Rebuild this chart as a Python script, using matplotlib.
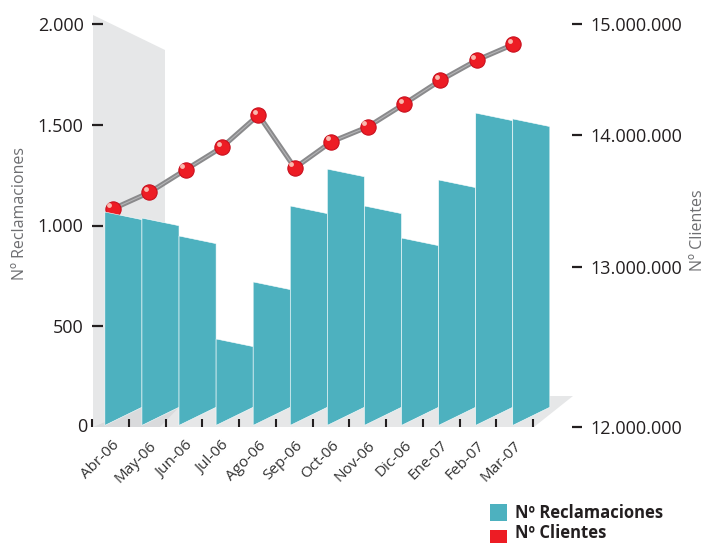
import numpy as np
import matplotlib
matplotlib.use("Agg")
import matplotlib.pyplot as plt
from matplotlib.transforms import ScaledTranslation

plt.rcParams['font.family'] = ['Open Sans', 'DejaVu Sans']

months = ['Abr-06','May-06','Jun-06','Jul-06','Ago-06','Sep-06','Oct-06','Nov-06','Dic-06','Ene-07','Feb-07','Mar-07']
reclamaciones = [1067,1037,948,437,720,1097,1280,1097,938,1226,1558,1529]
clientes = [13439000,13563000,13735000,13905000,14177000,13748000,13945000,14069000,14276000,14490000,14673000,14815000]

left_ticks = [500,1000,1500,2000]
left_labels = ['500','1.000','1.500','2.000']
right_ticks = [12000000,13000000,14000000,15000000]
right_labels = ['12.000.000','13.000.000','14.000.000','15.000.000']
# right axis in the original is not evenly spaced, position of each tick as axes fraction
right_pos = [0.005,0.4,0.727,1.0]

W,H = 707,543
X0,X1,Y0,Y1 = 92,533,427,24
TEAL = '#4db1bf'
RED = '#ed1c24'

fig = plt.figure(figsize=(W/100,H/100),dpi=100)
ax2 = fig.add_axes([X0/W,(H-Y0)/H,(X1-X0)/W,(Y0-Y1)/H])
ax = fig.add_axes(ax2.get_position())
ax.patch.set_visible(False)
ax2.patch.set_visible(False)
ax2.set_zorder(1)
ax.set_zorder(2)

def px(x,y):
	return ((x-X0)/(X1-X0),(Y0-y)/(Y0-Y1))

# wall and floor
def shape(points,color):
	ax2.add_patch(plt.Polygon([px(*p) for p in points],closed=True,color=color,lw=0,
		transform=ax2.transAxes,clip_on=False,zorder=0))
shape([(93,15),(165,50),(165,396),(93,427)],'#e6e7e8')
shape([(93,427),(534,427),(573,396),(165,396)],'#e6e7e8')
shape([(93,427),(160,427),(190,396),(165,396)],'#d9dadc')

# line on the right axis
def forward(v):
	return np.interp(v,right_ticks,right_pos)
def inverse(p):
	return np.interp(p,right_pos,right_ticks)
ax2.set_yscale('function',functions=(forward,inverse))
ax2.set_ylim(12000000,15000000)
ax2.set_xlim(0,12)
xline = np.arange(12)*0.99+0.57
ax2.plot(xline,clientes,color='#8a8a8c',lw=3.6,zorder=3,solid_capstyle='round')
ax2.plot(xline,clientes,color='#b4b4b6',lw=0.8,zorder=3)
ax2.plot(xline,clientes,ls='none',marker='o',ms=11,mfc=RED,mec='#c8101e',mew=0.8,zorder=4)
shift = ScaledTranslation(-2.5/72,2.5/72,fig.dpi_scale_trans)
ax2.plot(xline,clientes,ls='none',marker='o',ms=3.5,mfc='#f9b9ae',mec='none',zorder=5,
	transform=ax2.transData+shift)

# bars as slanted faces
bar_left = 0.35
bar_w = 1.009
for i,v in enumerate(reclamaciones):
	x = i*bar_w+bar_left
	ax.fill([x,x+bar_w,x+bar_w,x],[v,v-38,98,8],facecolor=TEAL,edgecolor='white',lw=0.4,zorder=3,clip_on=False)

ax.set_xlim(0,12)
ax.set_ylim(0,2000)
for a in (ax,ax2):
	for s in a.spines.values():
		s.set_visible(False)

ax.set_yticks(left_ticks)
ax.set_yticklabels(left_labels,fontsize=13,color='#231f20')
ax.tick_params(axis='y',direction='in',length=8,width=1.6,color='#231f20',pad=6)
ax.text(-0.01,0,'0',transform=ax.get_yaxis_transform(),ha='right',va='center',fontsize=13,color='#231f20')

ax.set_xticks(np.arange(13))
ax.set_xticklabels([])
ax.set_xticks(np.arange(12)*0.993+0.55,minor=True)
ax.set_xticklabels(months,minor=True,rotation=45,ha='right',rotation_mode='anchor',fontsize=11,color='#333333')
ax.tick_params(axis='x',which='major',direction='in',length=6,width=1.5,color='#231f20')
ax.tick_params(axis='x',which='minor',length=0,pad=8)

ax2.yaxis.tick_right()
ax2.spines['right'].set_position(('outward',28))
ax2.set_yticks(right_ticks)
ax2.set_yticklabels(right_labels,fontsize=13,color='#231f20')
ax2.minorticks_off()
ax2.tick_params(axis='y',direction='out',length=7.5,width=1.6,color='#231f20',pad=6)
ax2.tick_params(axis='x',bottom=False,labelbottom=False)

fig.text(20/W,1-214/H,'Nº Reclamaciones',rotation=90,ha='center',va='center',fontsize=11.5,color='#6d6e71')
fig.text(698/W,1-230/H,'Nº Clientes',rotation=90,ha='center',va='center',fontsize=11.5,color='#6d6e71')

# legend
for y,c in [(521,TEAL),(547,RED)]:
	fig.patches.append(plt.Rectangle((490/W,1-y/H),17/W,17/H,transform=fig.transFigure,color=c,lw=0))
for y,t in [(518,'Nº Reclamaciones'),(538,'Nº Clientes')]:
	fig.text(515/W,1-y/H,t,fontsize=12,fontweight='bold',color='#231f20',va='baseline')

fig.savefig('out.png',dpi=100)
